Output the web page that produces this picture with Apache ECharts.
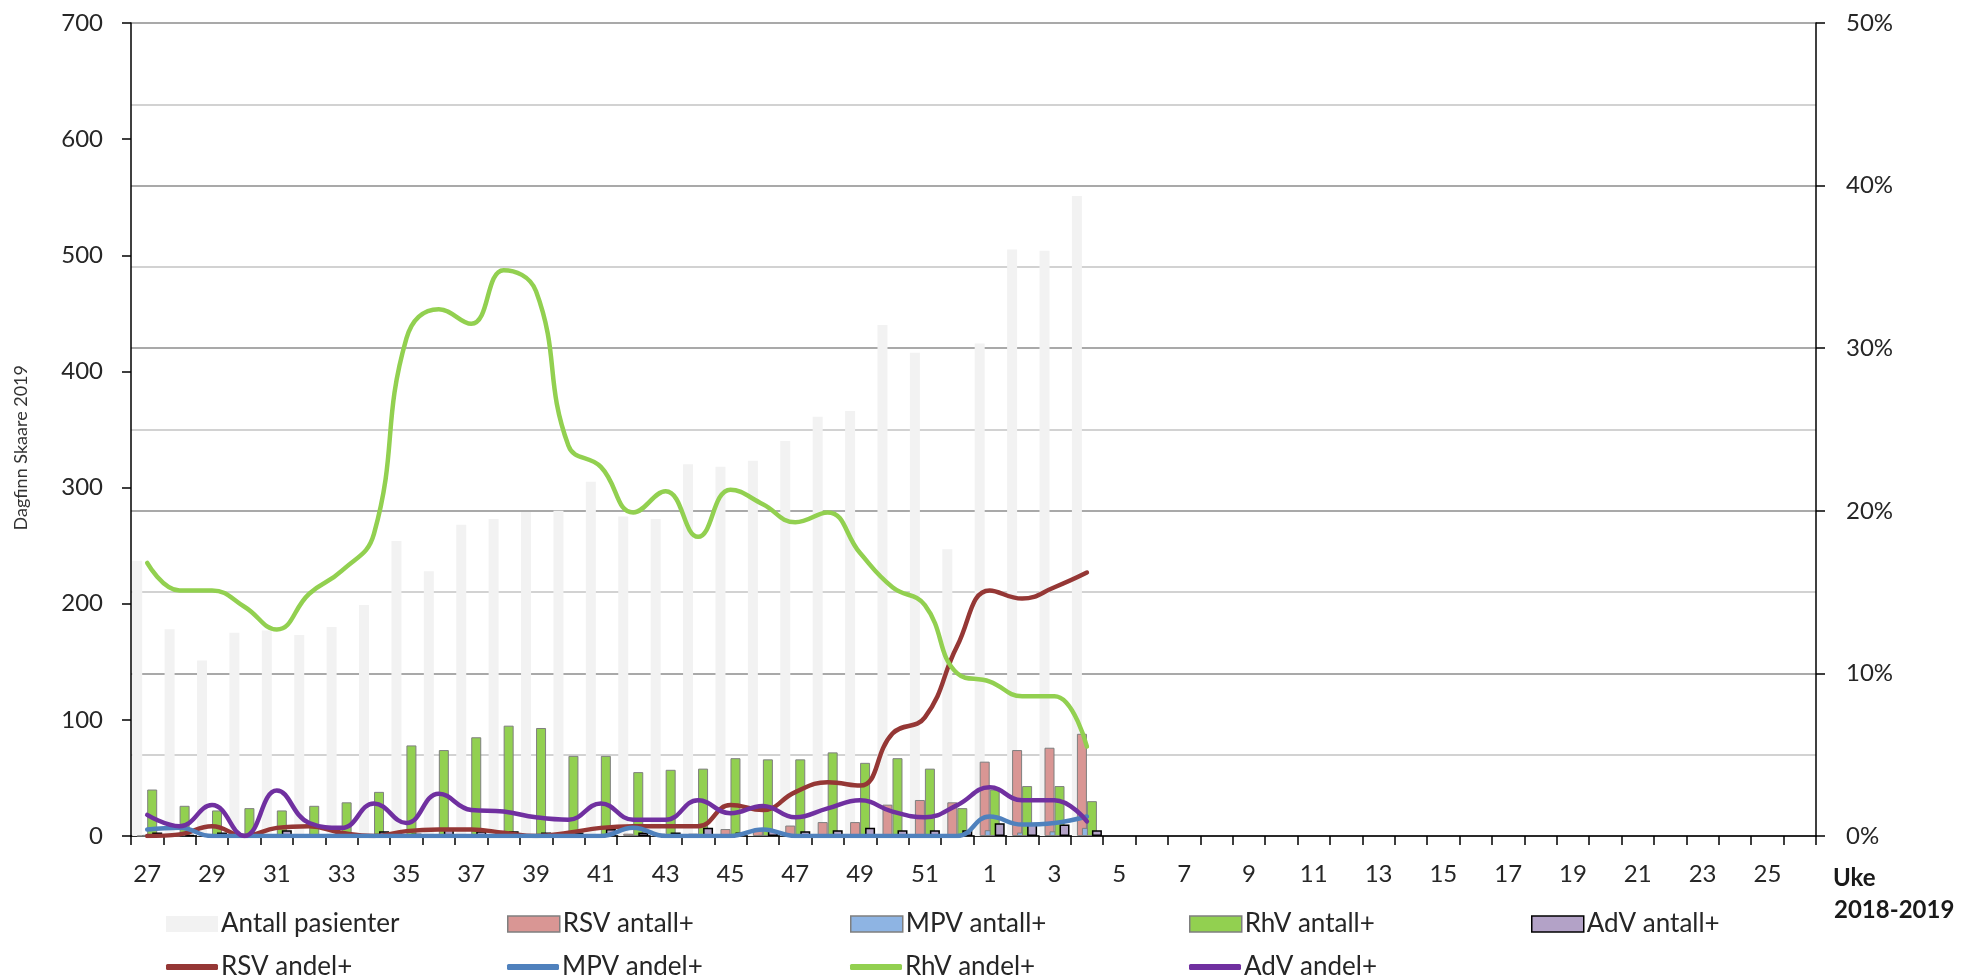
<!DOCTYPE html>
<html>
<head>
<meta charset="utf-8">
<script src="https://cdn.jsdelivr.net/npm/echarts@6/dist/echarts.min.js"></script>
<style>
  html, body { margin: 0; padding: 0; background: #fff; }
  #chart { width: 1971px; height: 979px; }
</style>
</head>
<body>
<div id="chart"></div>
<script>
// uker 27..52 (2018) og 1..26 (2019)
var weeks = [];
for (var w = 27; w <= 52; w++) weeks.push(String(w));
for (var w2 = 1; w2 <= 26; w2++) weeks.push(String(w2));

// antall (venstre akse)
var antallPasienter = [237, 178, 151, 175, 177, 173, 180, 199, 254, 228, 268, 273, 279, 280, 305, 275, 273, 320, 318, 323, 340, 361, 366, 440, 416, 247, 424, 505, 504, 551];
var rsvAntall = [0, 0, 1, 0, 1, 1, 0, 0, 1, 1, 1, 0, 0, 0, 1, 2, 2, 2, 6, 5, 9, 12, 12, 27, 31, 29, 64, 74, 76, 88];
var mpvAntall = [1, 1, 0, 0, 0, 0, 0, 0, 0, 0, 0, 0, 0, 0, 0, 1, 0, 0, 0, 1, 0, 0, 0, 0, 0, 0, 5, 3, 4, 7];
var rhvAntall = [40, 26, 22, 24, 22, 26, 29, 38, 78, 74, 85, 95, 93, 69, 69, 55, 57, 58, 67, 66, 66, 72, 63, 67, 58, 24, 40, 43, 43, 30];
var advAntall = [3, 1, 3, 0, 5, 1, 1, 4, 2, 6, 4, 4, 3, 3, 6, 3, 3, 7, 3, 5, 4, 5, 7, 5, 5, 5, 11, 10, 10, 5];

// andel positive i prosent (høyre akse)
var rsvAndel = [0, 0.1, 0.6, 0, 0.5, 0.6, 0.2, 0, 0.3, 0.4, 0.4, 0.2, 0, 0.2, 0.5, 0.6, 0.6, 0.6, 1.9, 1.6, 2.7, 3.3, 3.1, 6.3, 7.3, 11.7, 15.1, 14.6, 15.3, 16.2];
var mpvAndel = [0.4, 0.5, 0, 0, 0, 0, 0, 0, 0, 0, 0, 0, 0, 0, 0, 0.5, 0, 0, 0, 0.4, 0, 0, 0, 0, 0, 0, 1.2, 0.7, 0.8, 1.2];
var rhvAndel = [16.8, 15.1, 15.1, 14.1, 12.7, 14.9, 16.3, 18.6, 30.6, 32.4, 31.5, 34.8, 33.5, 24.0, 22.7, 19.9, 21.2, 18.4, 21.3, 20.4, 19.3, 19.9, 17.4, 15.3, 14.2, 10.0, 9.5, 8.6, 8.6, 5.5];
var advAndel = [1.3, 0.6, 1.9, 0, 2.8, 0.8, 0.5, 2.0, 0.8, 2.6, 1.6, 1.5, 1.15, 1.0, 2.0, 1.0, 1.0, 2.2, 1.4, 1.85, 1.15, 1.7, 2.2, 1.5, 1.15, 1.9, 3.0, 2.2, 2.2, 0.9];

var leftTicks = [0, 100, 200, 300, 400, 500, 600, 700];
var rightTicks = [0, 10, 20, 30, 40, 50];

var FONT = 'Lato, "Open Sans", sans-serif';
var TXT = '#262626';

var bars = [
  { name: 'Antall pasienter', data: antallPasienter, color: '#f2f2f2', border: 'transparent', bw: 0 },
  { name: 'RSV antall+', data: rsvAntall, color: '#d99694', border: '#7f7f7f', bw: 1 },
  { name: 'MPV antall+', data: mpvAntall, color: '#8eb4e3', border: '#7f7f7f', bw: 1 },
  { name: 'RhV antall+', data: rhvAntall, color: '#92d050', border: '#7f7f7f', bw: 1 },
  { name: 'AdV antall+', data: advAntall, color: '#b3a2c7', border: '#000000', bw: 1.5 }
];
var lines = [
  { name: 'RSV andel+', data: rsvAndel, color: '#953735' },
  { name: 'MPV andel+', data: mpvAndel, color: '#4f81bd' },
  { name: 'RhV andel+', data: rhvAndel, color: '#92d050' },
  { name: 'AdV andel+', data: advAndel, color: '#7030a0' }
];

var series = [];
bars.forEach(function (b) {
  series.push({
    name: b.name,
    type: 'bar',
    yAxisIndex: 0,
    data: b.data,
    barWidth: 10,
    barGap: '-50%',
    itemStyle: { color: b.color, borderColor: b.border, borderWidth: b.bw },
    emphasis: { disabled: true },
    animation: false
  });
});
lines.forEach(function (l) {
  series.push({
    name: l.name,
    type: 'line',
    yAxisIndex: 1,
    data: l.data,
    smooth: 0.45,
    symbol: 'none',
    lineStyle: { color: l.color, width: 4.5, cap: 'round' },
    itemStyle: { color: l.color },
    z: 5,
    animation: false
  });
});

// én legende per element, plassert i rutenett (2 rader)
var colX = [166, 507, 850, 1189, 1531];
var legends = [];
bars.forEach(function (b, i) {
  legends.push({
    data: [b.name], left: colX[i], top: 910, padding: 0,
    itemWidth: 52, itemHeight: 16, icon: 'rect', selectedMode: false,
    itemStyle: { borderColor: b.border, borderWidth: b.bw === 0 ? 0 : 1.5 },
    textStyle: { fontFamily: FONT, fontSize: 26, color: TXT, lineHeight: 28, padding: [0, 0, 0, -2] }
  });
});
lines.forEach(function (l, i) {
  legends.push({
    data: [l.name], left: colX[i], top: 953, padding: 0,
    itemWidth: 52, itemHeight: 6, icon: 'roundRect', selectedMode: false,
    textStyle: { fontFamily: FONT, fontSize: 26, color: TXT, lineHeight: 28, padding: [0, 0, 0, -2] }
  });
});

var chart = echarts.init(document.getElementById('chart'), null, { renderer: 'canvas' });
chart.setOption({
  backgroundColor: '#ffffff',
  animation: false,
  grid: { left: 131, right: 155, top: 23, bottom: 143, containLabel: false },
  legend: legends,
  xAxis: {
    type: 'category',
    data: weeks,
    boundaryGap: true,
    axisLine: { lineStyle: { color: '#000', width: 1.5 } },
    axisTick: { show: true, interval: 0, length: 9, lineStyle: { color: '#000', width: 1.5 } },
    axisLabel: { interval: 1, margin: 26, fontFamily: FONT, fontSize: 24, color: TXT },
    splitLine: { show: false }
  },
  yAxis: [
    {
      type: 'value',
      position: 'left',
      min: leftTicks[0],
      max: leftTicks[leftTicks.length - 1],
      interval: 100,
      axisLine: { show: true, lineStyle: { color: '#000', width: 1.5 } },
      axisTick: { show: true, length: 9, lineStyle: { color: '#000', width: 1.5 } },
      axisLabel: { margin: 28, fontFamily: FONT, fontSize: 24, color: TXT },
      splitLine: { show: false }
    },
    {
      type: 'value',
      position: 'right',
      min: rightTicks[0],
      max: rightTicks[rightTicks.length - 1],
      interval: 10,
      axisLine: { show: true, lineStyle: { color: '#000', width: 1.5 } },
      axisTick: { show: true, length: 9, lineStyle: { color: '#000', width: 1.5 } },
      axisLabel: { margin: 30, fontFamily: FONT, fontSize: 24, color: TXT, formatter: '{value}%' },
      splitLine: { show: true, lineStyle: { color: '#8c8c8c', width: 1.5 } },
      minorTick: { show: false, splitNumber: 2 },
      minorSplitLine: { show: true, lineStyle: { color: '#c4c4c4', width: 1.5 } }
    }
  ],
  graphic: [
    {
      type: 'text', left: 12, top: 365, rotation: Math.PI / 2,
      style: { text: 'Dagfinn Skaare 2019', font: '18px ' + FONT, fill: '#333' }
    },
    {
      type: 'text', left: 1833, top: 866,
      style: { text: 'Uke', font: 'bold 24px ' + FONT, fill: '#1a1a1a' }
    },
    {
      type: 'text', left: 1834, top: 898,
      style: { text: '2018-2019', font: 'bold 24px ' + FONT, fill: '#1a1a1a' }
    }
  ],
  series: series
});
</script>
</body>
</html>
